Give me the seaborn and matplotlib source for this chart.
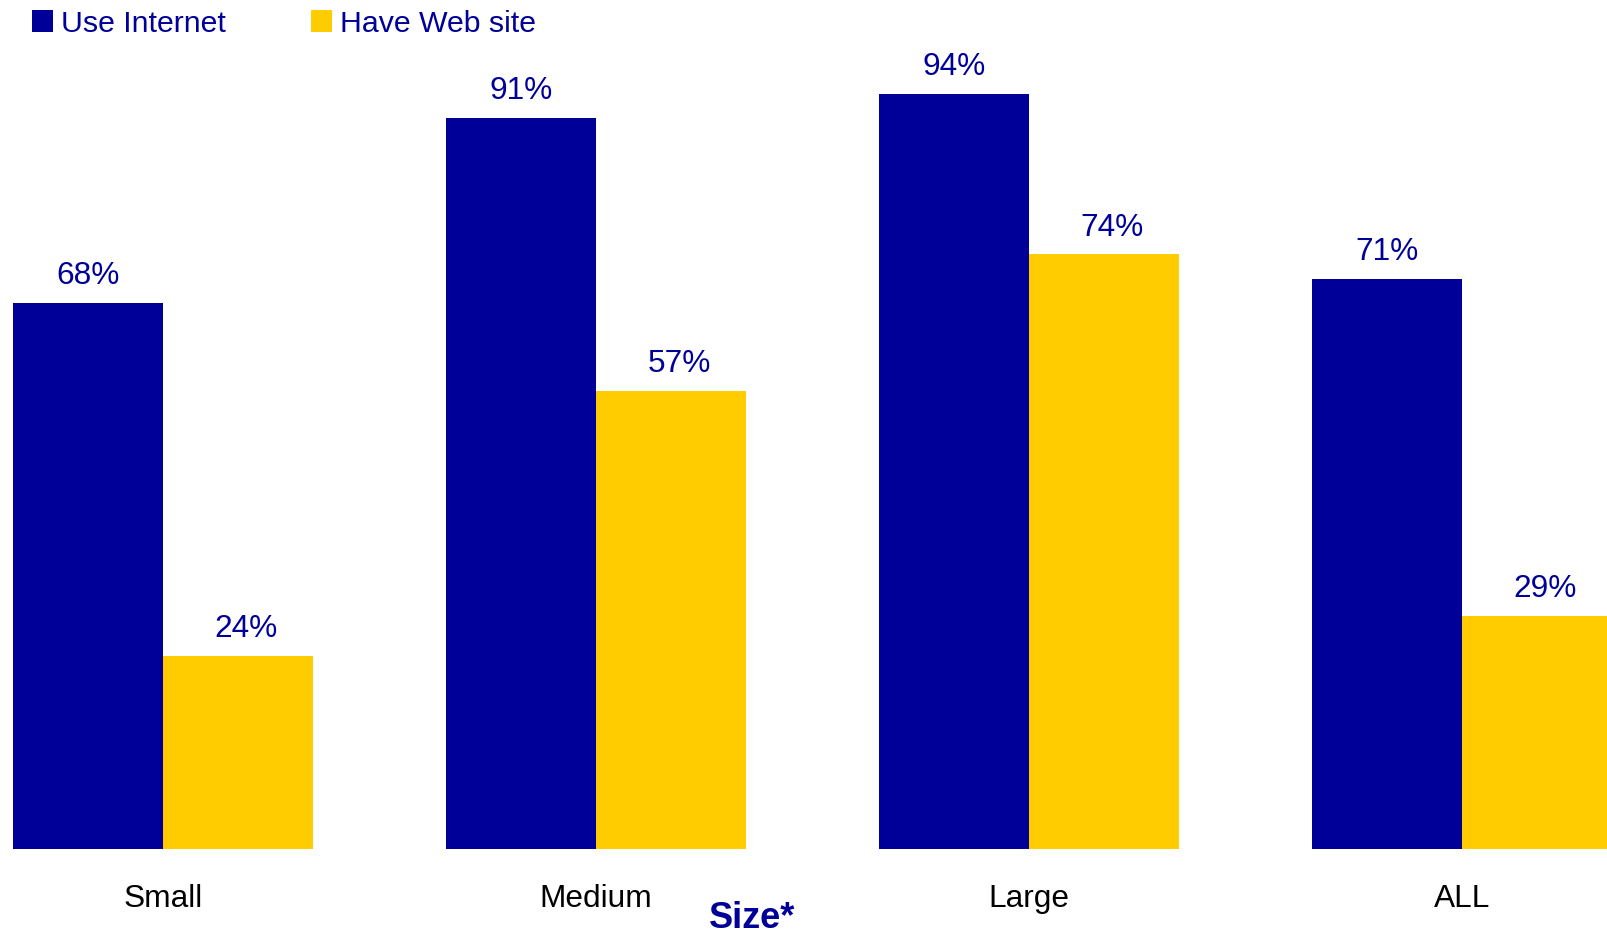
import matplotlib
matplotlib.use("Agg")
import matplotlib.pyplot as plt
from matplotlib.patches import Patch
import pandas as pd
import seaborn as sns

# Share of companies by size
sizes = ["Small", "Medium", "Large", "ALL"]
use_internet = [68, 91, 94, 71]
have_web_site = [24, 57, 74, 29]
series_names = ["Use Internet", "Have Web site"]

NAVY = "#000099"
GOLD = "#FFCC00"

df = pd.DataFrame({
    "size": sizes * 2,
    "series": [series_names[0]] * len(sizes) + [series_names[1]] * len(sizes),
    "value": use_internet + have_web_site,
})

sns.set_theme(style="white")
plt.rcParams["font.family"] = ["Liberation Sans", "DejaVu Sans"]

fig = plt.figure(figsize=(16.08, 9.35), dpi=100)
ax = fig.add_axes([0.0, 86 / 935, 1.0, 849 / 935])

sns.barplot(
    data=df, x="size", y="value", hue="series",
    order=sizes, hue_order=series_names,
    palette={series_names[0]: NAVY, series_names[1]: GOLD},
    saturation=1, width=0.693, gap=0, linewidth=0,
    legend=False, ax=ax,
)

# value labels; the second series' labels sit a little right of bar centre
label_dx = [0, 6]
for container, dx in zip(ax.containers, label_dx):
    anns = ax.bar_label(container, fmt="{:.0f}%", padding=8.6,
                        fontsize=22.8, color=NAVY)
    for a in anns:
        a.xyann = (dx, a.xyann[1])

ax.set_xlim(-0.3765, 3.338)
ax.set_ylim(0, 105.67)
ax.set_yticks([])
ax.set_ylabel("")
ax.tick_params(axis="x", length=0, pad=24.9, labelsize=22.8, labelcolor="black")
for s in ax.spines.values():
    s.set_visible(False)

ax.set_xlabel("Size*", fontsize=26, fontweight="bold", color=NAVY)
ax.xaxis.set_label_coords(0.4675, -0.061)

handles = [Patch(facecolor=NAVY, edgecolor="none"),
           Patch(facecolor=GOLD, edgecolor="none")]
leg = fig.legend(
    handles, series_names, loc="upper left",
    bbox_to_anchor=(32 / 1608, 1 - 9.5 / 935),
    ncol=2, frameon=False, fontsize=21.8,
    handlelength=0.68, handleheight=0.77, handletextpad=0.28,
    columnspacing=2.81, borderpad=0, borderaxespad=0,
)
for t in leg.get_texts():
    t.set_color(NAVY)

fig.savefig("out.png", dpi=100, facecolor="white")
